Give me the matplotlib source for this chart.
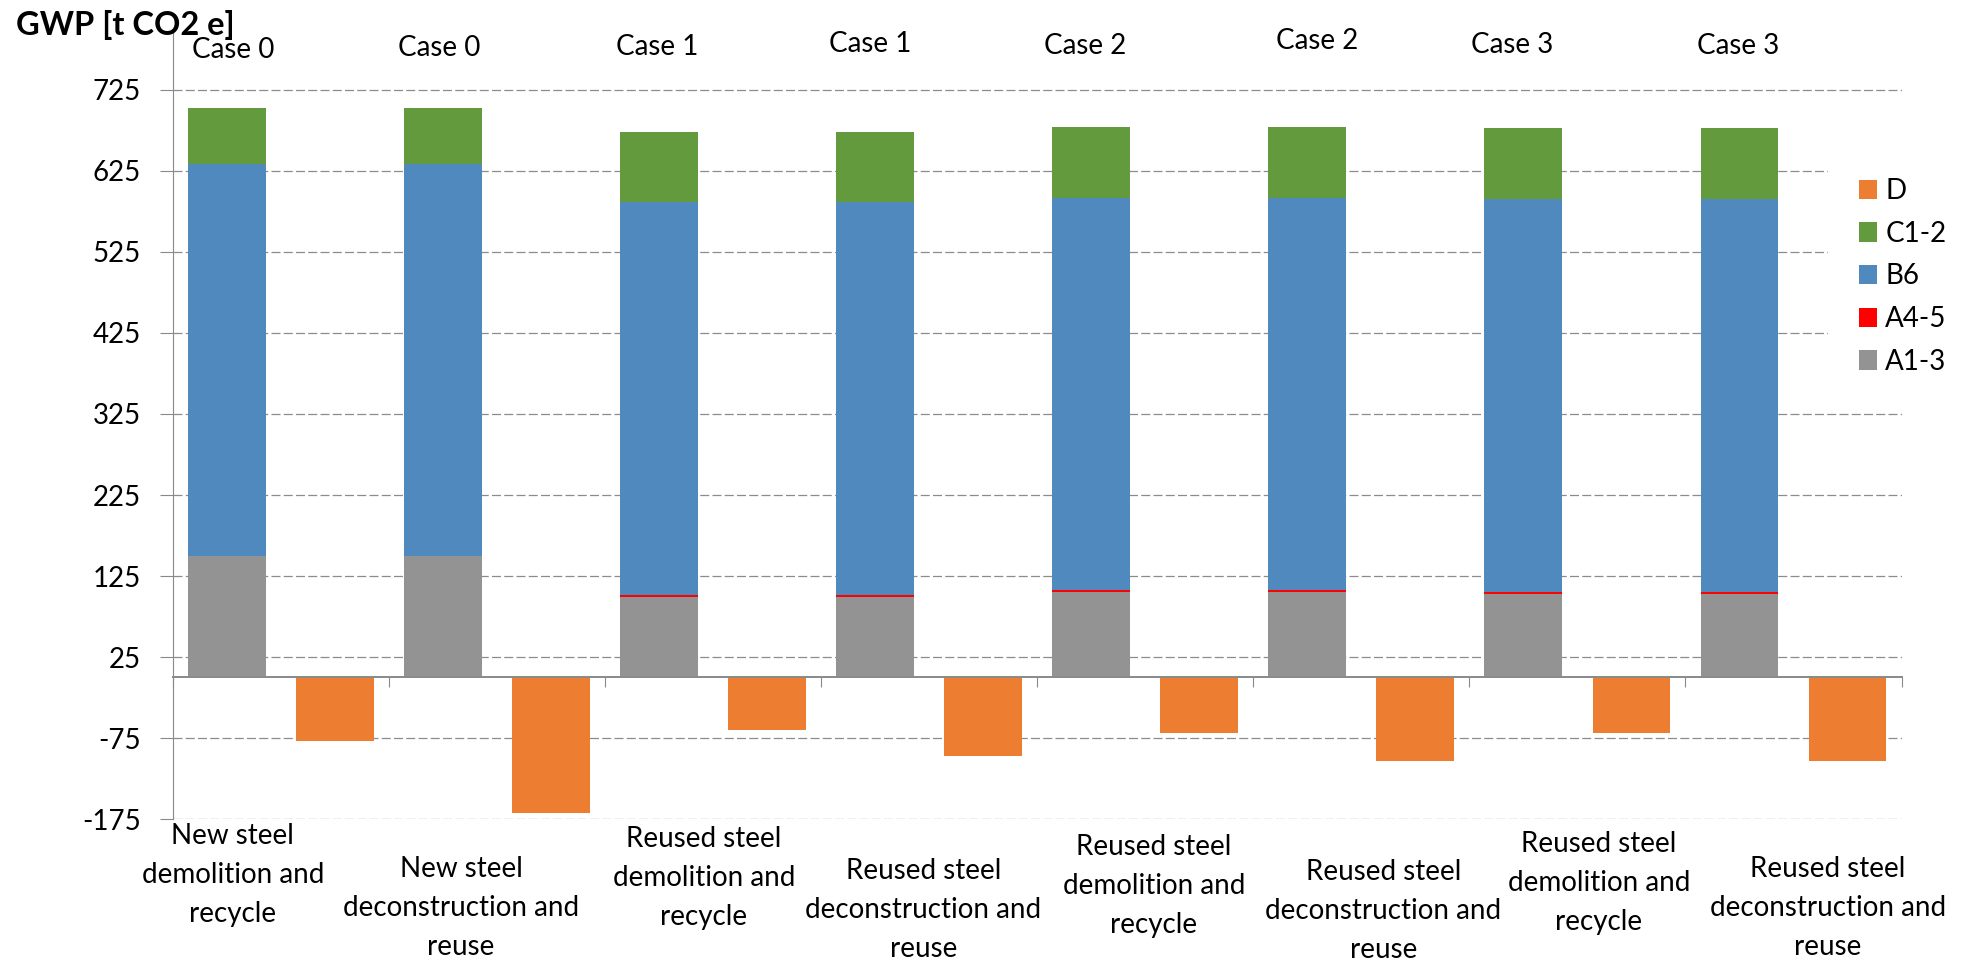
import matplotlib
matplotlib.use('Agg')
import matplotlib.pyplot as plt
import numpy as np

# ---------------- data ----------------
cases = ['Case 0', 'Case 0', 'Case 1', 'Case 1', 'Case 2', 'Case 2', 'Case 3', 'Case 3']
scenarios = [
    'New steel\ndemolition and\nrecycle',
    'New steel\ndeconstruction and\nreuse',
    'Reused steel\ndemolition and\nrecycle',
    'Reused steel\ndeconstruction and\nreuse',
    'Reused steel\ndemolition and\nrecycle',
    'Reused steel\ndeconstruction and\nreuse',
    'Reused steel\ndemolition and\nrecycle',
    'Reused steel\ndeconstruction and\nreuse',
]
a13 = [150, 150, 99, 99, 105, 105, 103, 103]
a45 = [0.3, 0.3, 3, 3, 3, 3, 3, 3]
b6 = [483, 483, 484.5, 484.5, 484, 484, 484.5, 484.5]
c12 = [69, 69, 86, 86, 86.5, 86.5, 87.5, 87.5]
d_vals = [-78, -167, -65, -96.5, -68, -103, -69, -103]
yticks = [-175, -75, 25, 125, 225, 325, 425, 525, 625, 725]

# ---------------- styling / layout ----------------
W, H, DPI = 1971, 961, 100
FONT = ['Lato', 'DejaVu Sans']
plt.rcParams['font.family'] = FONT

C_GRAY = '#939393'
C_RED = '#FF0000'
C_BLUE = '#4F89BD'
C_GREEN = '#639A3D'
C_ORANGE = '#ED7D31'
AX_COL = '#898989'

fig = plt.figure(figsize=(W / DPI, H / DPI), dpi=DPI)
ax_l, ax_r, ax_t, ax_b = 173, 1901.5, 33, 819.3
ax = fig.add_axes([ax_l / W, 1 - ax_b / H, (ax_r - ax_l) / W, (ax_b - ax_t) / H])

n = len(cases)
idx = np.arange(n)
pos_stack = 2 * idx
pos_d = 2 * idx + 1
bw = 0.72

a13 = np.array(a13, float)
a45 = np.array(a45, float)
b6 = np.array(b6, float)
c12 = np.array(c12, float)

h_a13 = ax.bar(pos_stack, a13, bw, color=C_GRAY, label='A1-3', zorder=3)
h_a45 = ax.bar(pos_stack, a45, bw, bottom=a13, color=C_RED, label='A4-5', zorder=3)
h_b6 = ax.bar(pos_stack, b6, bw, bottom=a13 + a45, color=C_BLUE, label='B6', zorder=3)
h_c12 = ax.bar(pos_stack, c12, bw, bottom=a13 + a45 + b6, color=C_GREEN, label='C1-2', zorder=3)
h_d = ax.bar(pos_d, d_vals, bw, color=C_ORANGE, label='D', zorder=3)

ax.set_xlim(-0.5, 2 * n - 0.5)
ax.set_ylim(-175, 795)

# y axis
ax.set_yticks(yticks)
ax.set_yticklabels([str(v) for v in yticks])
ax.tick_params(axis='y', direction='out', length=9.4, width=0.8, color=AX_COL,
               labelsize=20, pad=14, labelcolor='black')
ax.yaxis.grid(True, color='#8C8C8C', linewidth=0.9, linestyle=(0, (7.2, 2.6)), zorder=0)
ax.set_axisbelow(True)

# x axis at zero with boundary ticks
ax.spines['bottom'].set_position(('data', 0))
ax.spines['bottom'].set_color(AX_COL)
ax.spines['bottom'].set_linewidth(1.4)
ax.spines['bottom'].set_zorder(4)
ax.set_xticks(np.arange(-0.5, 2 * n, 2))
ax.set_xticklabels([])
ax.tick_params(axis='x', direction='out', length=7.2, width=0.8, color=AX_COL)
ax.spines['left'].set_color(AX_COL)
ax.spines['left'].set_linewidth(0.8)
ax.spines['top'].set_visible(False)
ax.spines['right'].set_visible(False)

# legend
leg = ax.legend(handles=[h_d, h_c12, h_b6, h_a45, h_a13],
                loc='center left', bbox_to_anchor=(1828 / W, 1 - 276.4 / H),
                bbox_transform=fig.transFigure, borderaxespad=0,
                fontsize=20, frameon=True, fancybox=False, framealpha=1,
                facecolor='white', edgecolor='none', borderpad=1.1,
                handlelength=0.68, handleheight=0.68, handletextpad=0.28,
                labelspacing=0.6)
leg.set_zorder(5)

# text annotations (pixel positions)
def fx(px):
    return px / W

def fy(py):
    return 1 - py / H

fig.text(fx(15.6), fy(35), 'GWP [t CO2 e]', fontsize=23.5, fontweight='bold',
         ha='left', va='baseline')

case_xy = [(233, 48), (439, 45.5), (657, 45), (870, 42), (1085, 44), (1317, 39), (1512, 43), (1738, 44)]
for lab, (px, py) in zip(cases, case_xy):
    fig.text(fx(px), fy(py + 10), lab, fontsize=20, ha='center', va='baseline')

scen_xy = [(232.8, 835), (461, 868), (704, 838.3), (923.5, 870), (1154, 846),
           (1383.5, 871), (1599, 843.3), (1828, 868)]
for lab, (px, py) in zip(scenarios, scen_xy):
    fig.text(fx(px), fy(py - 12), lab, fontsize=20, ha='center', va='top',
             linespacing=1.62, multialignment='center')

fig.savefig('out.png', dpi=DPI, facecolor='white')
